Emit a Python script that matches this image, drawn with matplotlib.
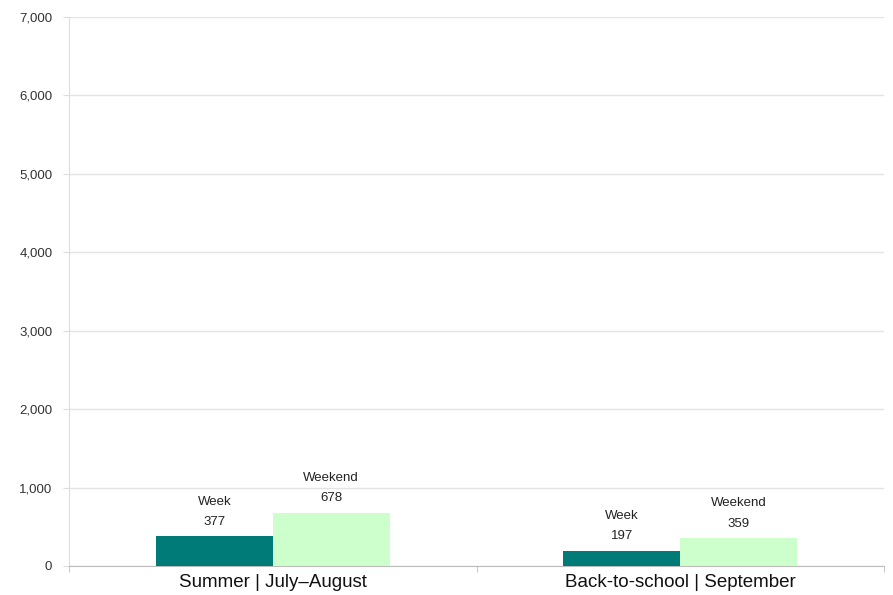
import matplotlib
matplotlib.use('Agg')
import matplotlib.pyplot as plt
import numpy as np

# data
categories = ['Summer | July–August', 'Back-to-school | September']
series_names = ['Week', 'Weekend']
week = [377, 197]
weekend = [678, 359]
colors = ['#007b78', '#ccffcc']

plt.rcParams['font.family'] = ['Liberation Sans', 'DejaVu Sans']

fig = plt.figure(figsize=(8.93, 5.95), dpi=100)
ax = fig.add_axes([69 / 893, 29 / 595, 815 / 893, 549 / 595])

x = np.arange(len(categories))
w = 0.287
for i, (name, vals) in enumerate(zip(series_names, [week, weekend])):
    pos = x + (i - 0.5) * w
    ax.bar(pos, vals, width=w, color=colors[i], zorder=3)
    for px, v in zip(pos, vals):
        ax.annotate(f'{name}\n{v:,}', (px, v), xytext=(0, 6), textcoords='offset points',
                    ha='center', va='bottom', fontsize=9.5, linespacing=1.95, color='#222222')

ax.set_xlim(-0.5, 1.5)
ax.set_ylim(0, 7000)
ax.set_yticks(range(0, 7001, 1000))
ax.set_yticklabels([f'{t:,}' for t in range(0, 7001, 1000)], fontsize=9.5, color='#333333')
ax.set_xticks(x)
ax.set_xticklabels(categories, fontsize=13.5, color='#111111')
ax.tick_params(axis='x', length=0, pad=6)
ax.set_xticks([-0.5, 0.5, 1.5], minor=True)
ax.tick_params(axis='x', which='minor', length=4, color='#bbbbbb')
ax.tick_params(axis='y', length=4, color='#dddddd', pad=8)

ax.grid(axis='y', color='#e3e3e3', linewidth=1, zorder=0)
for s in ['top', 'right']:
    ax.spines[s].set_visible(False)
ax.spines['left'].set_color('#dddddd')
ax.spines['bottom'].set_color('#bbbbbb')

fig.savefig('out.png', dpi=100)
